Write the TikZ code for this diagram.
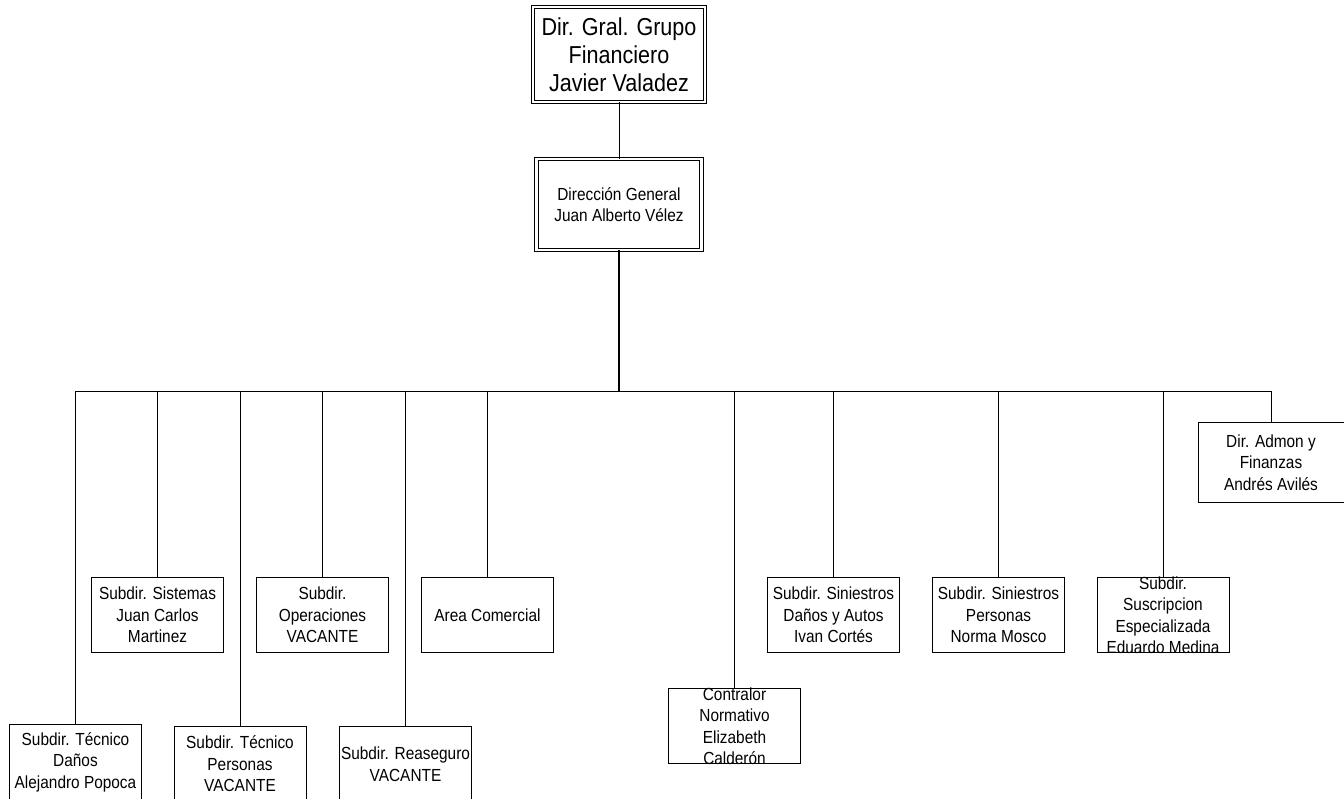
\documentclass[tikz,border=0pt]{standalone}
\usepackage{fontspec}
\setmainfont[FakeStretch=0.88]{Liberation Sans}

\begin{document}
\begin{tikzpicture}[x=1pt,y=-1pt,
		linea/.style={line width=1pt},
		puesto/.style={draw, line width=1pt, minimum width=132pt, minimum height=75pt, inner sep=0pt, anchor=north},
		nombre/.style={align=center, inner sep=0pt, font=\fontsize{17.5pt}{21.5pt}\selectfont},
		director/.style={draw, double, double distance=2.4pt, line width=.9pt, inner sep=0pt, align=center}]
	\useasboundingbox (0,0) rectangle (1344,798);

	\node [director, minimum width=172pt, minimum height=95pt, font=\fontsize{24.5pt}{28pt}\selectfont] (grupo) at (619,54.5) {Dir. Gral. Grupo\\Financiero\\Javier Valadez};
	\node [director, minimum width=165pt, minimum height=91pt, nombre] (dg) at (619,204.5) {Dirección General\\Juan Alberto Vélez};
	\coordinate (bus) at (619,391);

	\draw [linea] (grupo) -- (dg);
	\draw [line width=2pt] (dg) -- (bus);

	\foreach \id/\x/\y/\txt in {
			tdanos/75.5/724/{Subdir. Técnico\\Daños\\Alejandro Popoca},
			sist/157.5/577/{Subdir. Sistemas\\Juan Carlos\\Martinez},
			tpers/240/726/{Subdir. Técnico\\Personas\\VACANTE},
			oper/322.5/577/{Subdir.\\Operaciones\\VACANTE},
			reas/405.5/726/{Subdir. Reaseguro\\VACANTE},
			area/487.5/577/{Area Comercial},
			contr/734.5/688/{Contralor\\Normativo\\Elizabeth\\Calderón},
			sinda/833.5/577/{Subdir. Siniestros\\Daños y Autos\\Ivan Cortés},
			sinpe/998.5/577/{Subdir. Siniestros\\Personas\\Norma Mosco},
			susc/1163/577/{Subdir.\\Suscripcion\\Especializada\\Eduardo Medina}} {
		\node [puesto, label={[nombre]center:\txt}] (\id) at (\x,\y) {};
		\draw [linea] (bus) -| (\id.north);
	}

	\node [puesto, minimum width=146pt, minimum height=80pt, label={[nombre]center:{Dir. Admon y\\Finanzas\\Andrés Avilés}}] (admon) at (1271,422) {};
	\draw [linea] (bus) -| (admon.north);
\end{tikzpicture}
\end{document}
